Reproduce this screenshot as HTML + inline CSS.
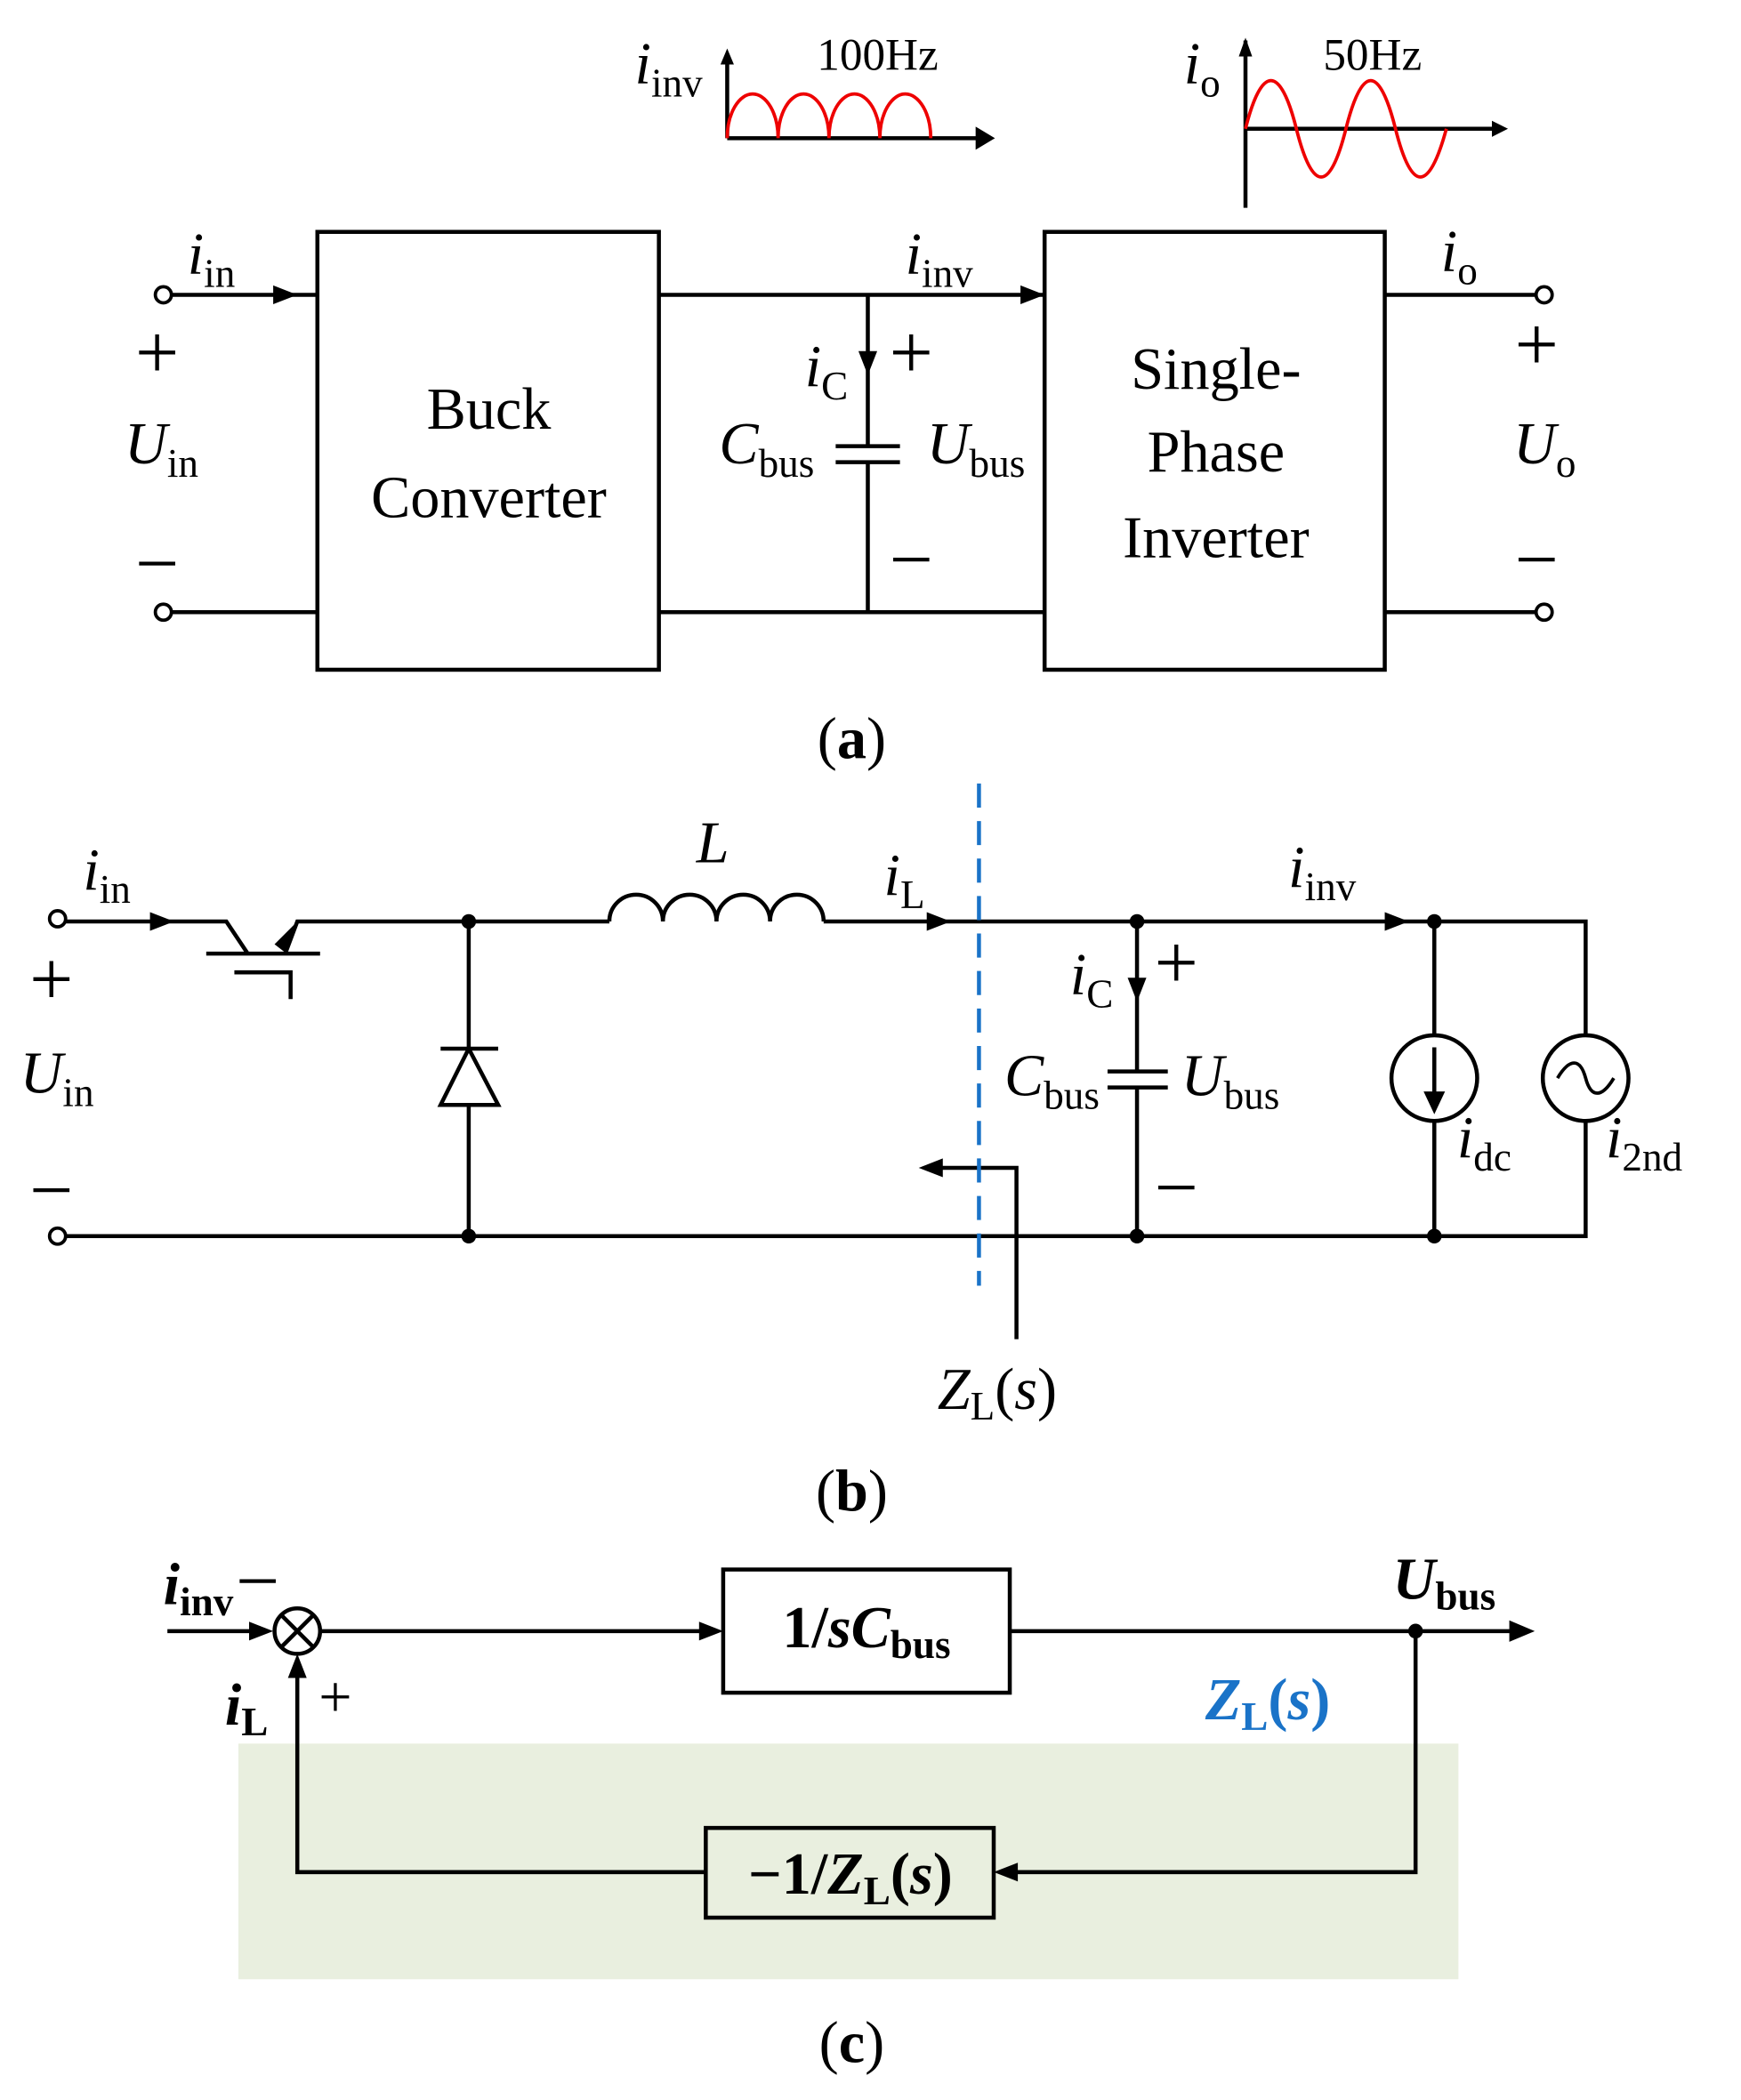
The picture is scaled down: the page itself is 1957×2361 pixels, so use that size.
<!DOCTYPE html>
<html><head><meta charset="utf-8"><style>
html,body{margin:0;padding:0;background:#fff}
svg{display:block}
text{font-family:"Liberation Serif",serif;fill:#000}
.i{font-style:italic}
.pm{font-size:58px}
</style></head><body>
<svg width="1957" height="2361" viewBox="0 0 1300 1568" xmlns="http://www.w3.org/2000/svg">
<g stroke="#000" stroke-width="3" fill="none">
<path d="M543,103V40"/>
<path d="M543,103H738"/>
<path d="M730,97L740,103L730,109z" fill="#000"/>
<path d="M538,48L543,36L548,48z" fill="#000" stroke="none"/>
<path d="M930,155V30"/><path d="M925,42L930,28L935,42z" fill="#000" stroke="none"/>
<path d="M930,96H1122"/><path d="M1114,90L1126,96L1114,102z" fill="#000" stroke="none"/>
</g>
<path d="M543,103 A19,33 0 0 1 581,103 A19,33 0 0 1 619,103 A19,33 0 0 1 657,103 A19,33 0 0 1 695,103" stroke="#e00" stroke-width="2.5" fill="none"/>
<path d="M930,96 C942,48 956,48 968,96 C980,144 993,144 1005,96 C1017,48 1030,48 1042,96 C1054,144 1067,144 1080,96" stroke="#e00" stroke-width="2.5" fill="none"/>
<g stroke="#000" stroke-width="3" fill="none">
<rect x="237" y="173" width="255" height="327"/>
<rect x="780" y="173" width="254" height="327"/>
<path d="M127,220H237M127,457H237M492,220H780M492,457H780M1034,220H1148M1034,457H1148"/>
<path d="M648,220V333M648,345V457M624,333H672M624,345H672"/>
</g>
<g fill="#000">
<path d="M204,213L222,220L204,227z"/><path d="M762,213L780,220L762,227z"/>
<path d="M641,262L648,280L655,262z"/>
</g>
<g stroke="#000" stroke-width="2.5" fill="#fff">
<circle cx="122" cy="220" r="6"/><circle cx="122" cy="457" r="6"/>
<circle cx="1153" cy="220" r="6"/><circle cx="1153" cy="457" r="6"/>
</g>
<g font-size="44">
<text x="140" y="204" class="i">i<tspan font-size="30" font-style="normal" dy="10">in</tspan></text>
<text x="101" y="282" class="pm">+</text>
<text x="93" y="346" class="i">U<tspan font-size="30" font-style="normal" dy="10">in</tspan></text>
<text x="101" y="440" class="pm">−</text>
<text x="365" y="320" text-anchor="middle">Buck</text>
<text x="365" y="386" text-anchor="middle">Converter</text>
<text x="676" y="204" class="i">i<tspan font-size="30" font-style="normal" dy="10">inv</tspan></text>
<text x="601" y="288" class="i">i<tspan font-size="30" font-style="normal" dy="10">C</tspan></text>
<text x="664" y="282" class="pm">+</text>
<text x="537" y="346" class="i">C<tspan font-size="30" font-style="normal" dy="10">bus</tspan></text>
<text x="692" y="346" class="i">U<tspan font-size="30" font-style="normal" dy="10">bus</tspan></text>
<text x="664" y="437" class="pm">−</text>
<text x="908" y="290" text-anchor="middle">Single-</text>
<text x="908" y="352" text-anchor="middle">Phase</text>
<text x="908" y="416" text-anchor="middle">Inverter</text>
<text x="1076" y="202" class="i">i<tspan font-size="30" font-style="normal" dy="10">o</tspan></text>
<text x="1131" y="276" class="pm">+</text>
<text x="1130" y="346" class="i">U<tspan font-size="30" font-style="normal" dy="10">o</tspan></text>
<text x="1131" y="437" class="pm">−</text>
<text x="474" y="62" class="i">i<tspan font-size="30" font-style="normal" dy="10">inv</tspan></text>
<text x="610" y="52" font-size="34">100Hz</text>
<text x="884" y="62" class="i">i<tspan font-size="30" font-style="normal" dy="10">o</tspan></text>
<text x="988" y="52" font-size="34">50Hz</text>
<text x="636" y="566" text-anchor="middle">(<tspan font-weight="bold">a</tspan>)</text>
</g>
<g stroke="#000" stroke-width="3" fill="none">
<path d="M48,688H169L185,712M154,712H239M213,712L222,688H455M175,726H217V746"/>
<path d="M615,688H1184V923H48"/>
<path d="M455,688 A20,20 0 0 1 495,688 A20,20 0 0 1 535,688 A20,20 0 0 1 575,688 A20,20 0 0 1 615,688" fill="#fff"/>
<path d="M350,688V923"/>
<path d="M329,783H372"/>
<path d="M849,688V800M849,812V923M827,800H872M827,812H872"/>
<path d="M1071,688V923"/>
<path d="M759,1000V872H700"/>
</g>
<path d="M350,783L329,825H372z" fill="#fff" stroke="#000" stroke-width="3"/>
<line x1="731" y1="585" x2="731" y2="960" stroke="#1a73c8" stroke-width="3" stroke-dasharray="18,10"/>
<circle cx="1071" cy="805" r="32" fill="#fff" stroke="#000" stroke-width="3"/>
<circle cx="1184" cy="805" r="32" fill="#fff" stroke="#000" stroke-width="3"/>
<path d="M1071,782V825" stroke="#000" stroke-width="3"/>
<path d="M1063,815L1071,832L1079,815z" fill="#000"/>
<path d="M1163,805C1172,790 1180,790 1184,805C1188,820 1196,820 1205,805" stroke="#000" stroke-width="2.5" fill="none"/>
<g fill="#000">
<path d="M112,681L130,688L112,695z"/><path d="M692,681L710,688L692,695z"/>
<path d="M1034,681L1052,688L1034,695z"/>
<path d="M842,730L849,748L856,730z"/>
<path d="M205,705L222,688L214,712z"/>
<path d="M704,865L686,872L704,879z"/>
<circle cx="350" cy="688" r="5.5"/><circle cx="849" cy="688" r="5.5"/><circle cx="1071" cy="688" r="5.5"/>
<circle cx="350" cy="923" r="5.5"/><circle cx="849" cy="923" r="5.5"/><circle cx="1071" cy="923" r="5.5"/>
</g>
<g stroke="#000" stroke-width="2.5" fill="#fff">
<circle cx="43" cy="686" r="6"/><circle cx="43" cy="923" r="6"/>
</g>
<g font-size="44">
<text x="62" y="664" class="i">i<tspan font-size="30" font-style="normal" dy="10">in</tspan></text>
<text x="22" y="750" class="pm">+</text>
<text x="15" y="816" class="i">U<tspan font-size="30" font-style="normal" dy="10">in</tspan></text>
<text x="22" y="908" class="pm">−</text>
<text x="520" y="644" class="i">L</text>
<text x="660" y="668" class="i">i<tspan font-size="30" font-style="normal" dy="10">L</tspan></text>
<text x="962" y="662" class="i">i<tspan font-size="30" font-style="normal" dy="10">inv</tspan></text>
<text x="799" y="742" class="i">i<tspan font-size="30" font-style="normal" dy="10">C</tspan></text>
<text x="862" y="738" class="pm">+</text>
<text x="750" y="818" class="i">C<tspan font-size="30" font-style="normal" dy="10">bus</tspan></text>
<text x="882" y="818" class="i">U<tspan font-size="30" font-style="normal" dy="10">bus</tspan></text>
<text x="862" y="906" class="pm">−</text>
<text x="1088" y="864" class="i">i<tspan font-size="30" font-style="normal" dy="10">dc</tspan></text>
<text x="1199" y="864" class="i">i<tspan font-size="30" font-style="normal" dy="10">2nd</tspan></text>
<text x="700" y="1052" class="i">Z<tspan font-size="30" font-style="normal" dy="8">L</tspan><tspan font-style="normal" dy="-8">(</tspan>s<tspan font-style="normal">)</tspan></text>
<text x="636" y="1128" text-anchor="middle">(<tspan font-weight="bold">b</tspan>)</text>
</g>
<rect x="178" y="1302" width="911" height="176" fill="#e9efdf"/>
<g stroke="#000" stroke-width="3" fill="none">
<circle cx="222" cy="1218" r="17"/>
<path d="M210,1206L234,1230M234,1206L210,1230"/>
<path d="M125,1218H200M239,1218H528M754,1218H1135M1057,1218V1398H756M527,1398H222V1248"/>
<rect x="540" y="1172" width="214" height="92"/>
<rect x="527" y="1365" width="215" height="67"/>
</g>
<g fill="#000">
<path d="M186,1211L204,1218L186,1225z"/><path d="M522,1211L540,1218L522,1225z"/>
<path d="M1127,1210L1146,1218L1127,1226z"/><path d="M760,1391L742,1398L760,1405z"/>
<path d="M215,1253L222,1235L229,1253z"/>
<circle cx="1057" cy="1218" r="5.5"/>
</g>
<g font-size="44" font-weight="bold">
<text x="122" y="1198" class="i">i<tspan font-size="30" font-style="normal" dy="8">inv</tspan></text>
<text x="176" y="1200" font-weight="normal" class="pm">−</text>
<text x="168" y="1288" class="i">i<tspan font-size="30" font-style="normal" dy="8">L</tspan></text>
<text x="238" y="1282" font-weight="normal" font-size="44">+</text>
<text x="647" y="1230" text-anchor="middle">1/<tspan class="i">sC</tspan><tspan font-size="30" dy="8">bus</tspan></text>
<text x="1040" y="1194" class="i">U<tspan font-size="30" font-style="normal" dy="8">bus</tspan></text>
<text x="900" y="1284" class="i" style="fill:#1a73c8">Z<tspan font-size="30" font-style="normal" dy="8" style="fill:#1a73c8">L</tspan><tspan font-style="normal" dy="-8" style="fill:#1a73c8">(</tspan>s<tspan font-style="normal" style="fill:#1a73c8">)</tspan></text>
<text x="635" y="1414" text-anchor="middle">−1/<tspan class="i">Z</tspan><tspan font-size="30" dy="8">L</tspan><tspan dy="-8">(</tspan><tspan class="i">s</tspan>)</text>
<text x="636" y="1540" text-anchor="middle" font-weight="normal">(<tspan font-weight="bold">c</tspan>)</text>
</g>
</svg>
</body></html>
